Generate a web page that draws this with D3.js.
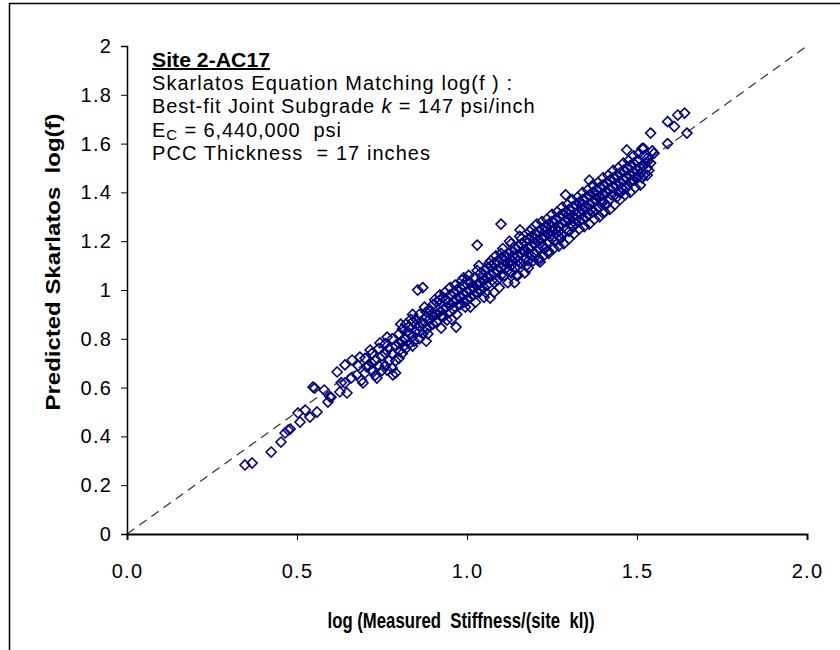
<!DOCTYPE html>
<html>
<head>
<meta charset="utf-8">
<script src="https://cdn.jsdelivr.net/npm/d3@7"></script>
<style>
  html, body { margin: 0; padding: 0; background: #fff; }
  svg { display: block; font-family: "Liberation Sans", Arial, sans-serif; }
</style>
</head>
<body>
<svg id="chart" width="840" height="650"></svg>
<script>
// ---------- data ----------
const xTicks = [0, 0.5, 1, 1.5, 2];
const xTickLabels = ["0.0", "0.5", "1.0", "1.5", "2.0"];
const yTicks = [0, 0.2, 0.4, 0.6, 0.8, 1, 1.2, 1.4, 1.6, 1.8, 2];
const yTickLabels = ["0", "0.2", "0.4", "0.6", "0.8", "1", "1.2", "1.4", "1.6", "1.8", "2"];
const equalityLine = [[0, 0], [2, 2]];

// [log(measured stiffness / site kl), predicted Skarlatos log(f)]
const points = [
  [0.347,0.283],[0.368,0.291],[0.424,0.336],[0.453,0.377],[0.465,0.414],[0.474,0.426],[0.480,0.430],
  [0.503,0.496],[0.509,0.459],[0.524,0.508],[0.538,0.479],[0.547,0.602],[0.552,0.598],[0.559,0.500],
  [0.591,0.541],[0.597,0.562],[0.618,0.664],[0.626,0.582],[0.641,0.693],[0.641,0.619],[0.647,0.578],
  [0.662,0.713],[0.676,0.652],[0.685,0.725],[0.694,0.619],[0.706,0.684],[0.715,0.754],[0.735,0.639],
  [0.744,0.783],[0.765,0.807],[0.765,0.672],[0.782,0.652],[0.790,0.660],
  [0.58,0.59],[0.60,0.56],[0.63,0.62],[0.66,0.64],[0.68,0.69],[0.69,0.63],[0.72,0.70],[0.73,0.65],
  [0.76,0.69],[0.78,0.68],[0.80,0.72],[0.81,0.74],[0.83,0.85],[0.84,0.90],[0.86,0.83],[0.88,0.79],
  [0.70,0.72],[0.70,0.66],[0.71,0.69],[0.72,0.74],[0.72,0.67],[0.73,0.71],[0.74,0.76],[0.74,0.69],
  [0.75,0.73],[0.75,0.67],[0.76,0.78],[0.76,0.74],[0.77,0.71],[0.77,0.76],[0.78,0.80],[0.78,0.74],
  [0.79,0.77],[0.79,0.71],[0.80,0.82],[0.80,0.78],[0.80,0.75],[0.81,0.79],[0.81,0.84],[0.82,0.80],
  [0.82,0.76],[0.82,0.86],[0.83,0.82],[0.83,0.78],[0.84,0.87],[0.84,0.81],[0.84,0.77],[0.85,0.83],
  [0.85,0.88],[0.855,1.00],[0.86,0.85],[0.86,0.80],[0.86,0.90],[0.87,1.01],[0.87,0.86],[0.87,0.82],
  [0.88,0.89],[0.88,0.91],[0.88,0.84],[0.89,0.85],[0.89,0.88],[0.89,0.92],[0.90,0.89],[0.90,0.94],
  [0.90,0.86],[0.91,0.90],[0.91,0.95],[0.91,0.87],[0.92,0.91],[0.92,0.96],[0.924,0.844],[0.93,0.92],
  [0.93,0.89],[0.93,0.97],[0.94,0.93],[0.941,0.877],[0.94,0.96],[0.95,0.94],[0.95,0.98],[0.95,0.91],
  [0.96,0.95],[0.96,0.99],[0.96,0.92],[0.97,0.96],[0.968,0.848],[0.97,1.00],[0.98,0.97],[0.98,1.01],
  [0.98,0.94],[0.99,0.98],[0.99,1.02],[0.99,0.95],[1.00,0.99],[1.00,1.04],[1.00,0.96],[1.01,1.00],
  [1.01,1.03],[1.01,0.97],[1.02,1.01],[1.02,1.05],[1.02,0.98],[1.03,1.02],[1.03,1.184],[1.03,0.99],
  [1.04,1.03],[1.04,1.07],[1.04,1.00],[1.05,1.04],[1.05,1.08],[1.05,1.01],[1.06,1.05],[1.06,1.09],
  [1.06,1.02],[1.07,1.06],[1.068,0.967],[1.07,1.10],[1.08,1.07],[1.08,1.11],[1.08,1.03],[1.09,1.08],
  [1.09,1.12],[1.09,1.04],[1.10,1.09],[1.10,1.27],[1.10,1.06],[1.10,1.13],
  [0.92,0.98],[0.95,1.01],[0.97,0.90],[0.99,1.05],[1.01,0.93],[1.03,1.08],[1.05,0.97],[1.07,1.12],
  [1.08,0.99],[1.10,1.15],[1.12,1.03],[1.13,1.19],[1.15,1.06],[1.16,1.21],[1.18,1.09],[1.19,1.25],
  [1.21,1.13],[1.22,1.28],[1.24,1.16],[1.25,1.31],[1.27,1.18],[1.28,1.34],[1.30,1.21],[1.31,1.37],
  [1.33,1.25],[1.34,1.40],[1.36,1.27],[1.37,1.43],[1.39,1.30],[1.40,1.46],[1.42,1.33],[1.43,1.49],
  [1.45,1.37],[1.46,1.52],[1.48,1.40],[1.49,1.55],[1.51,1.43],[1.52,1.58],
  [0.805,0.86],[0.815,0.77],[0.825,0.83],[0.835,0.88],[0.845,0.79],[0.865,0.87],[0.875,0.93],[0.885,0.82],
  [0.895,0.90],[0.905,0.96],[0.915,0.92],[0.925,0.89],[0.935,0.99],[0.945,0.95],[0.955,0.88],[0.965,1.02],
  [0.975,0.94],[0.985,1.04],[0.995,0.93],[1.005,1.06],[1.015,1.01],[1.025,0.95],[1.035,1.10],[1.045,1.05],
  [1.055,0.99],[1.065,1.11],[1.075,1.04],[1.085,1.14],[1.095,1.01],[1.105,1.17],[1.115,1.09],[1.125,1.20],
  [1.135,1.14],[1.145,1.06],[1.155,1.22],[1.165,1.16],[1.175,1.10],[1.185,1.24],[1.195,1.12],[1.205,1.27],
  [1.215,1.19],[1.225,1.14],[1.235,1.29],[1.245,1.22],[1.255,1.17],[1.265,1.32],[1.275,1.21],[1.285,1.19],
  [1.295,1.35],[1.305,1.27],[1.315,1.23],[1.325,1.38],[1.335,1.31],[1.345,1.26],[1.355,1.41],[1.365,1.33],
  [1.375,1.29],[1.385,1.44],[1.395,1.36],[1.405,1.32],[1.415,1.47],[1.425,1.39],[1.435,1.35],[1.445,1.50],
  [1.455,1.42],[1.465,1.39],[1.475,1.53],[1.485,1.45],[1.495,1.42],[1.505,1.56],[1.515,1.46],[1.525,1.52],
  [1.535,1.49],[1.545,1.57],[1.505,1.47],
  [1.11,1.10],[1.11,1.14],[1.11,1.06],[1.11,1.12],[1.12,1.11],[1.12,1.15],[1.12,1.08],
  [1.13,1.12],[1.13,1.16],[1.13,1.07],[1.13,1.10],[1.14,1.13],[1.14,1.03],[1.14,1.17],[1.14,1.09],
  [1.15,1.14],[1.15,1.18],[1.15,1.10],[1.15,1.12],[1.156,1.246],[1.16,1.15],[1.16,1.19],[1.16,1.11],
  [1.17,1.16],[1.17,1.07],[1.17,1.20],[1.17,1.13],[1.18,1.17],[1.18,1.21],[1.18,1.12],[1.18,1.15],
  [1.19,1.18],[1.19,1.22],[1.19,1.14],[1.20,1.19],[1.20,1.23],[1.20,1.15],[1.20,1.21],
  [1.21,1.20],[1.215,1.115],[1.21,1.24],[1.21,1.17],[1.21,1.12],[1.22,1.21],[1.22,1.25],[1.22,1.18],
  [1.23,1.22],[1.23,1.26],[1.23,1.17],[1.23,1.24],[1.24,1.23],[1.24,1.15],[1.24,1.27],[1.24,1.20],
  [1.25,1.24],[1.25,1.28],[1.25,1.21],[1.25,1.26],[1.26,1.25],[1.26,1.29],[1.26,1.20],
  [1.27,1.26],[1.27,1.30],[1.27,1.22],[1.27,1.24],[1.28,1.27],[1.28,1.31],[1.28,1.23],
  [1.29,1.28],[1.29,1.39],[1.29,1.32],[1.29,1.25],[1.30,1.29],[1.30,1.33],[1.30,1.24],[1.30,1.31],
  [1.31,1.30],[1.31,1.34],[1.31,1.26],[1.32,1.31],[1.32,1.35],[1.32,1.27],[1.32,1.29],
  [1.33,1.32],[1.33,1.36],[1.33,1.28],[1.34,1.33],[1.34,1.37],[1.34,1.29],[1.34,1.35],
  [1.35,1.34],[1.35,1.38],[1.35,1.30],[1.36,1.35],[1.36,1.45],[1.36,1.39],[1.36,1.31],
  [1.37,1.36],[1.37,1.40],[1.37,1.32],[1.38,1.37],[1.38,1.41],[1.38,1.33],[1.38,1.39],
  [1.39,1.38],[1.39,1.42],[1.39,1.34],[1.40,1.39],[1.40,1.315],[1.40,1.43],[1.40,1.36],
  [1.41,1.40],[1.41,1.44],[1.41,1.35],[1.42,1.41],[1.42,1.45],[1.42,1.37],[1.43,1.42],[1.435,1.39],
  [1.43,1.46],[1.44,1.43],[1.44,1.47],[1.44,1.38],[1.45,1.44],[1.45,1.48],[1.45,1.40],
  [1.46,1.45],[1.46,1.49],[1.46,1.41],[1.47,1.46],[1.47,1.574],[1.47,1.50],[1.47,1.42],
  [1.48,1.47],[1.48,1.51],[1.48,1.44],[1.49,1.48],[1.49,1.52],[1.49,1.45],[1.50,1.49],[1.50,1.53],
  [1.50,1.46],[1.51,1.50],[1.515,1.58],[1.51,1.48],[1.52,1.51],[1.52,1.55],[1.52,1.47],
  [1.53,1.525],[1.53,1.47],[1.53,1.54],[1.53,1.50],[1.54,1.643],[1.54,1.52],[1.55,1.56],
  [1.59,1.69],[1.59,1.60],[1.61,1.67],[1.62,1.717],[1.64,1.725],[1.647,1.643]
];

// ---------- layout ----------
const svg = d3.select("#chart");
const x = d3.scaleLinear().domain([0, 2]).range([127, 807]);
const y = d3.scaleLinear().domain([0, 2]).range([534, 46]);
const navy = "#000080";
const FONT = "Liberation Sans, Arial, sans-serif";

// outer frame (extends beyond viewport at right/bottom)
svg.append("rect").attr("x", 9.5).attr("y", 3.5).attr("width", 1000).attr("height", 1000)
  .attr("fill", "none").attr("stroke", "#000").attr("stroke-width", 1.5);

// equality line
svg.append("path").datum(equalityLine)
  .attr("d", d3.line().x(d => x(d[0])).y(d => y(d[1])))
  .attr("stroke", "#333").attr("stroke-width", 1.2).attr("stroke-dasharray", "9,6").attr("fill", "none");

// points (diamonds)
const diamond = "M0,-5L5,0L0,5L-5,0Z";
svg.append("g").selectAll("path").data(points).join("path")
  .attr("d", diamond)
  .attr("transform", d => `translate(${x(d[0])},${y(d[1])})`)
  .attr("fill", "none").attr("stroke", navy).attr("stroke-width", 1.6);

// axes
const yAxis = d3.axisLeft(y).tickValues(yTicks).tickFormat((d, i) => yTickLabels[i]).tickSizeOuter(0).tickSize(6).tickPadding(9);
const gy = svg.append("g").attr("transform", "translate(127,0)").call(yAxis);
gy.select(".domain").attr("stroke", "#000").attr("stroke-width", 1.5);
gy.selectAll(".tick line").attr("stroke", "#000").attr("stroke-width", 1);
gy.selectAll(".tick text").attr("font-size", 20).attr("fill", "#000").attr("font-family", FONT)
  .attr("letter-spacing", 1.2);

const xAxis = d3.axisBottom(x).tickValues(xTicks).tickFormat((d, i) => xTickLabels[i]).tickSizeOuter(0).tickSize(6).tickPadding(24);
const gx = svg.append("g").attr("transform", "translate(0,534)").call(xAxis);
gx.select(".domain").attr("stroke", "#000").attr("stroke-width", 2);
gx.selectAll(".tick line").attr("stroke", "#000").attr("stroke-width", 1);
gx.selectAll(".tick text").attr("font-size", 20).attr("fill", "#000").attr("font-family", FONT)
  .attr("letter-spacing", 1.2);

// axis titles
svg.append("text").attr("x", 461).attr("y", 628).attr("text-anchor", "middle")
  .attr("font-size", 21.5).attr("font-weight", "bold")
  .attr("textLength", 267).attr("lengthAdjust", "spacingAndGlyphs")
  .style("white-space", "pre")
  .text("log (Measured  Stiffness/(site  kl))");

svg.append("text").attr("transform", "translate(60,262) rotate(-90)").attr("text-anchor", "middle")
  .attr("font-size", 20).attr("font-weight", "bold")
  .attr("textLength", 297).attr("lengthAdjust", "spacingAndGlyphs")
  .style("white-space", "pre")
  .text("Predicted Skarlatos  log(f)");

// annotation
const ax = 152;
svg.append("text").attr("x", ax).attr("y", 67).attr("font-size", 20).attr("font-weight", "bold")
  .attr("text-decoration", "underline").attr("textLength", 118).attr("lengthAdjust", "spacingAndGlyphs")
  .text("Site 2-AC17");
svg.append("text").attr("x", ax).attr("y", 90).attr("font-size", 20).style("white-space", "pre")
  .attr("textLength", 360).attr("lengthAdjust", "spacing")
  .text("Skarlatos Equation Matching log(f ) :");
const t3 = svg.append("text").attr("x", ax).attr("y", 113).attr("font-size", 20).attr("letter-spacing", 0.9);
t3.append("tspan").text("Best-fit Joint Subgrade ");
t3.append("tspan").attr("font-style", "italic").text("k");
t3.append("tspan").text(" = 147 psi/inch");
const t4 = svg.append("text").attr("x", ax).attr("y", 137).attr("font-size", 20).attr("letter-spacing", 0.9).style("white-space", "pre");
t4.append("tspan").text("E");
t4.append("tspan").attr("font-size", 15).attr("dy", 3).text("C");
t4.append("tspan").attr("dy", -3).text(" = 6,440,000  psi");
svg.append("text").attr("x", ax).attr("y", 160).attr("font-size", 20).style("white-space", "pre")
  .attr("textLength", 278).attr("lengthAdjust", "spacing")
  .text("PCC Thickness  = 17 inches");
</script>
</body>
</html>
